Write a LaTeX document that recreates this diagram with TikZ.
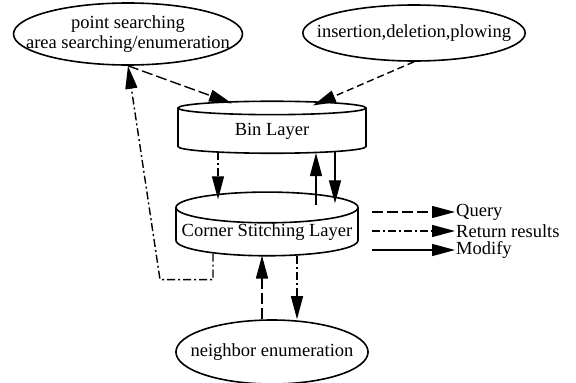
\documentclass[tikz,border=0pt]{standalone}
\usepackage{fontspec}
\setmainfont{Liberation Serif}
\usetikzlibrary{shapes.geometric, arrows.meta, positioning, calc}

\begin{document}
\begin{tikzpicture}[x=1pt, y=-1pt,
    oval/.style={ellipse, draw, line width=1.6pt, inner ysep=0pt, align=center, font=\fontsize{18.5}{20}\selectfont},
    layer/.style={cylinder, shape border rotate=90, draw, line width=1.6pt, aspect=0.18, inner sep=0pt, font=\fontsize{18.5}{20}\selectfont},
    legend/.style={anchor=west, inner sep=1pt, font=\fontsize{18.5}{20}\selectfont},
    link/.style={-{Triangle[length=23pt,width=12pt]}, line width=1.4pt},
    query/.style={link, dash pattern=on 11pt off 4pt},
    insertq/.style={link, dash pattern=on 7pt off 4pt},
    result/.style={link, dash pattern=on 8pt off 3pt on 2pt off 3pt},
    modify/.style={link}]
    \useasboundingbox (0,0) rectangle (576,383);

    \node (search) [oval, inner xsep=-21pt, minimum height=62pt] at (128,34) {point searching\\area searching/enumeration};
    \node (insert) [oval, inner xsep=-18.5pt, minimum height=56pt] at (414,33) {insertion,deletion,plowing};
    \node (bin) [layer, minimum width=188pt, minimum height=52pt] at (272,131) {Bin Layer};
    \node (corner) [layer, minimum width=182pt, minimum height=58pt] at (267,232) {Corner Stitching Layer};
    \node (neighbor) [oval, inner xsep=-13.5pt, minimum height=64pt] at (272,352) {neighbor enumeration};

    % legend
    \node (lquery) [legend] at (455,212) {Query};
    \node (lresult) [legend] at (455,231) {Return results};
    \node (lmodify) [legend] at (455,250) {Modify};
    \coordinate (qstart) at (372,212);
    \coordinate (rstart) at (372,231);
    \coordinate (mstart) at (372,250);
    \draw [query] (qstart) -- (lquery.west);
    \draw [result] (rstart) -- (lresult.west);
    \draw [modify] (mstart) -- (lmodify.west);

    % connectors
    \draw [query] (search.south) -- ($(bin.north)+(-40,3)$);
    \draw [insertq] (insert.south) -- ($(bin.north)+(41,5)$);
    \draw [result] ($(bin.south)+(-54,-2)$) -- ($(corner.north)+(-49,8)$);
    \draw [modify] ($(corner.north)+(49,14)$) -- ($(bin.south)+(44,-1)$);
    \draw [modify] ($(bin.south)+(63,-3)$) -- ($(corner.north)+(68,12)$);
    \draw [query] ($(neighbor.north)+(-10,0)$) -- ($(corner.south)+(-5,-1)$);
    \draw [result] ($(corner.south)+(30,-1)$) -- ($(neighbor.north)+(25,0)$);
    \draw [result] ($(corner.south)+(-54,-3)$) -- ++(0,26) -- ++(-53,0) -- (search.south);
\end{tikzpicture}
\end{document}
